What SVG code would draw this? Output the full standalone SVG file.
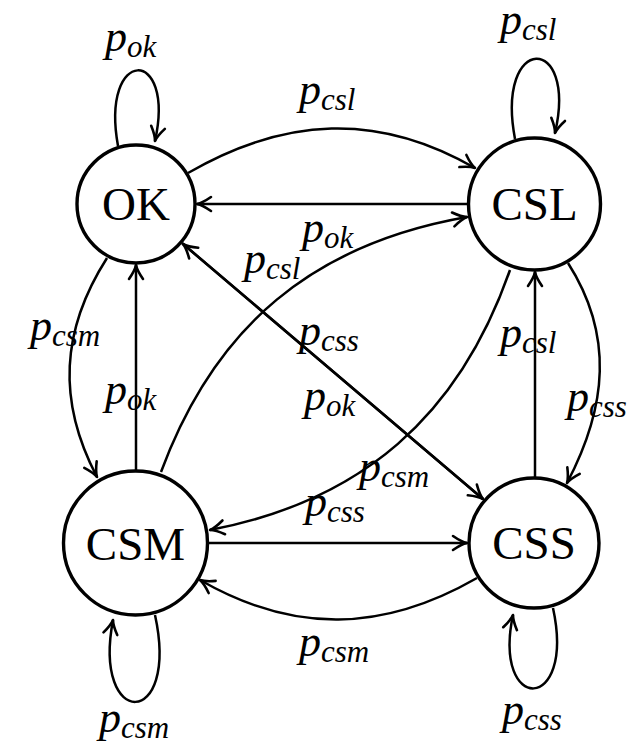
<svg xmlns="http://www.w3.org/2000/svg" width="632" height="748" viewBox="0 0 632 748">
  <defs>
    <!-- curved-barb arrowhead, tip at the path end -->
    <marker id="arrow" markerUnits="userSpaceOnUse" orient="auto" refX="0" refY="0"
            viewBox="-16 -10 18 20" markerWidth="18" markerHeight="20" overflow="visible">
      <path d="M-14,-7 C-8.5,-3.2 -3,-0.6 0,0 C-3,0.6 -8.5,3.2 -14,7"
            fill="none" stroke="#000" stroke-width="2.6" stroke-linecap="round" stroke-linejoin="round"/>
    </marker>
    <style>
      .edge { fill: none; stroke: #000; stroke-width: 2.5; marker-end: url(#arrow); }
      .state { fill: #fff; stroke: #000; stroke-width: 3.4; }
      .name { font-family: "Liberation Serif", "Times New Roman", serif; font-size: 47px; text-anchor: middle; fill: #000; }
      .lbl { font-family: "Liberation Serif", "Times New Roman", serif; font-style: italic; font-size: 44px; fill: #000; }
      .sub { font-size: 31px; }
    </style>
  </defs>

  <!-- transitions -->
  <g id="edges">
    <path id="e-ok-ok" class="edge" d="M118,146 C100,46 176,46 155,141"/>
    <path id="e-csl-csl" class="edge" d="M515,139 C495,33 578,33 555,133"/>
    <path id="e-ok-csl" class="edge" d="M188,173 C285,117 378,112 475,168"/>
    <path id="e-csl-ok" class="edge" d="M468,204 L197,204"/>
    <path id="e-csm-csl" class="edge" d="M161,472 C215,326 313,244 467,217"/>
    <path id="e-csl-csm" class="edge" d="M510,270 C459,416 362,501 210,530"/>
    <path id="e-ok-css" class="edge" d="M182,243 L483,499"/>
    <path id="e-css-ok" class="edge" d="M483,499 L183,244"/>
    <path id="e-ok-csm" class="edge" d="M107,258 C61,330 57,401 97,477"/>
    <path id="e-csm-ok" class="edge" d="M136,471 L136,265"/>
    <path id="e-css-csl" class="edge" d="M535,477 L535,272"/>
    <path id="e-csl-css" class="edge" d="M568,263 C614,335 607,407 567,483"/>
    <path id="e-csm-css" class="edge" d="M209,543 L467,543"/>
    <path id="e-css-csm" class="edge" d="M477,578 C383,632 294,634 200,580"/>
    <path id="e-csm-csm" class="edge" d="M155,615 C180,730 92,730 113,620"/>
    <path id="e-css-css" class="edge" d="M553,608 C576,714 492,714 513,615"/>
  </g>

  <!-- transition probabilities -->
  <g id="labels">
    <text class="lbl" x="105" y="51">p<tspan class="sub" dy="6">ok</tspan></text>
    <text class="lbl" x="500" y="34">p<tspan class="sub" dy="6">csl</tspan></text>
    <text class="lbl" x="299" y="104">p<tspan class="sub" dy="6">csl</tspan></text>
    <text class="lbl" x="302" y="242">p<tspan class="sub" dy="6">ok</tspan></text>
    <text class="lbl" x="244" y="273">p<tspan class="sub" dy="6">csl</tspan></text>
    <text class="lbl" x="299" y="345">p<tspan class="sub" dy="6">css</tspan></text>
    <text class="lbl" x="304" y="410">p<tspan class="sub" dy="6">ok</tspan></text>
    <text class="lbl" x="30" y="340">p<tspan class="sub" dy="6">csm</tspan></text>
    <text class="lbl" x="105" y="404">p<tspan class="sub" dy="6">ok</tspan></text>
    <text class="lbl" x="500" y="347">p<tspan class="sub" dy="6">csl</tspan></text>
    <text class="lbl" x="567" y="411">p<tspan class="sub" dy="6">css</tspan></text>
    <text class="lbl" x="359" y="481">p<tspan class="sub" dy="6">csm</tspan></text>
    <text class="lbl" x="305" y="516">p<tspan class="sub" dy="6">css</tspan></text>
    <text class="lbl" x="299" y="656">p<tspan class="sub" dy="6">csm</tspan></text>
    <text class="lbl" x="99" y="732">p<tspan class="sub" dy="6">csm</tspan></text>
    <text class="lbl" x="502" y="724">p<tspan class="sub" dy="6">css</tspan></text>
  </g>

  <!-- states -->
  <g id="OK">
    <circle class="state" cx="136" cy="204" r="59"/>
    <text class="name" x="136" y="220">OK</text>
  </g>
  <g id="CSL">
    <circle class="state" cx="534.5" cy="204" r="66"/>
    <text class="name" x="534.5" y="220">CSL</text>
  </g>
  <g id="CSM">
    <circle class="state" cx="135.5" cy="543" r="72"/>
    <text class="name" x="135.5" y="560">CSM</text>
  </g>
  <g id="CSS">
    <circle class="state" cx="534" cy="543" r="65"/>
    <text class="name" x="534" y="559">CSS</text>
  </g>
</svg>
